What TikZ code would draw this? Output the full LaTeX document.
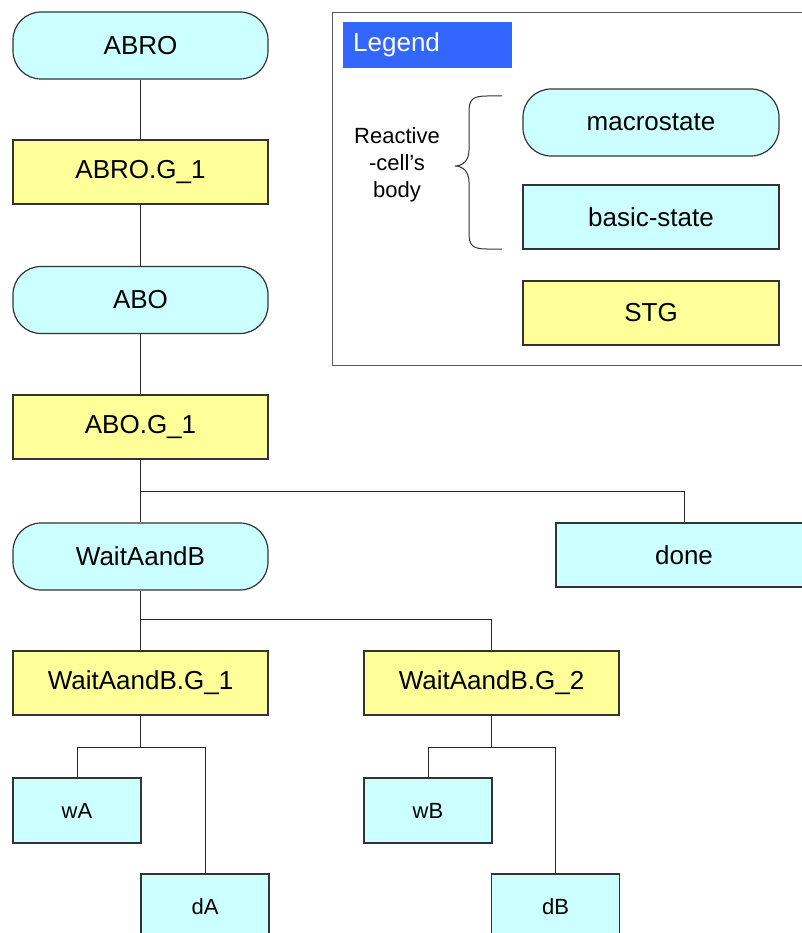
\documentclass[tikz,border=0pt]{standalone}
\usepackage{fontspec}
\setmainfont{Liberation Sans}
\definecolor{cellcyan}{HTML}{CCFFFF}
\definecolor{stgyellow}{HTML}{FFFF99}
\definecolor{legblue}{HTML}{3366FF}
\definecolor{bordergray}{HTML}{333333}
\begin{document}
\begin{tikzpicture}[x=1pt,y=-1pt,
  base/.style={draw=bordergray,line width=1.2pt,inner sep=0pt,font=\fontsize{26}{31}\selectfont},
  macro/.style={base,fill=cellcyan,rounded corners=28pt,minimum width=255pt,minimum height=67pt},
  stgbox/.style={base,fill=stgyellow,minimum width=255pt,minimum height=64pt},
  basicbox/.style={base,fill=cellcyan,minimum width=255pt,minimum height=64pt},
  smallbox/.style={base,fill=cellcyan,minimum width=128pt,minimum height=65pt,font=\fontsize{22}{26}\selectfont},
  conn/.style={draw=black!85,line width=0.9pt}]
\useasboundingbox (0,0) rectangle (802,933);
\clip (0,0) rectangle (802,933);
\fill[white] (0,0) rectangle (802,933);

% tree nodes
\node[macro] (abro) at (140.5,45.5) {ABRO};
\node[stgbox] (abrog) at (140.5,172) {ABRO.G\_1};
\node[macro] (abo) at (140.5,300) {ABO};
\node[stgbox] (abog) at (140.5,427) {ABO.G\_1};
\node[macro] (wait) at (140.5,556.5) {WaitAandB};
\node[basicbox,minimum width=256pt] (done) at (684,555) {done};
\node[stgbox] (wg1) at (140.5,683) {WaitAandB.G\_1};
\node[stgbox] (wg2) at (491.5,683) {WaitAandB.G\_2};
\node[smallbox] (wa) at (77,810.5) {wA};
\node[smallbox] (da) at (205,906.5) {dA};
\node[smallbox] (wb) at (428,810.5) {wB};
\node[smallbox] (db) at (555.5,906.5) {dB};

% junction coordinates
\coordinate (j1) at (140.5,491);
\coordinate (j2) at (140.5,619);
\coordinate (j3) at (140.5,747);
\coordinate (j4) at (491.5,747);

% connectors
\draw[conn] (abro.south) -- (abrog.north);
\draw[conn] (abrog.south) -- (abo.north);
\draw[conn] (abo.south) -- (abog.north);
\draw[conn] (abog.south) -- (wait.north);
\draw[conn] (j1) -| (done.north);
\draw[conn] (wait.south) -- (wg1.north);
\draw[conn] (j2) -| (wg2.north);
\draw[conn] (wg1.south) -- (j3);
\draw[conn] (wa.north) -- (wa.north |- j3) -- (da.north |- j3) -- (da.north);
\draw[conn] (wg2.south) -- (j4);
\draw[conn] (wb.north) -- (wb.north |- j4) -- (db.north |- j4) -- (db.north);

% legend
\draw[draw=black!65,line width=1pt] (332.5,13) rectangle (812,365);
\fill[legblue] (343,22) rectangle (512,68);
\node[anchor=west,text=white,inner sep=0pt,font=\fontsize{26}{31}\selectfont] (legt) at (353,45) {Legend};
\node[macro,minimum width=256pt] (lmacro) at (651,122.5) {macrostate};
\node[basicbox,minimum width=256pt] (lbasic) at (651,217) {basic-state};
\node[stgbox,minimum width=256pt] (lstg) at (651,313) {STG};
\node[align=center,inner sep=0pt,font=\fontsize{22}{27}\selectfont] (rc) at (397,165) {Reactive\\-cell’s\\body};
\draw[black!80,line width=1pt] (502,96) -- (487,96) .. controls (472,96) and (469,100) .. (469,112) -- (469,150)
  .. controls (469,160) and (463,166) .. (455,166) .. controls (463,166) and (469,172) .. (469,182)
  -- (469,233) .. controls (469,245) and (472,249) .. (487,249) -- (502,249);
\end{tikzpicture}
\end{document}
